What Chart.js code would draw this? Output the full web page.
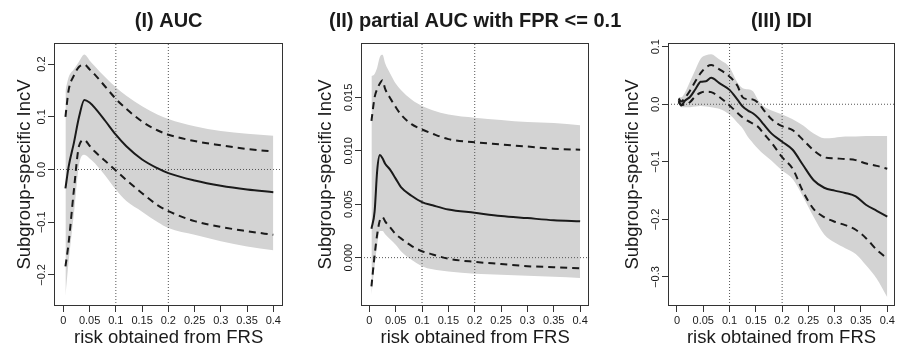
<!DOCTYPE html>
<html>
<head>
<meta charset="utf-8">
<script src="https://cdn.jsdelivr.net/npm/chart.js@4.4.0/dist/chart.umd.min.js"></script>
<style>
  body { margin: 0; background: #fff; }
  #wrap { position: relative; width: 897px; height: 354px; overflow: hidden; }
  canvas { position: absolute; top: 0; }
</style>
</head>
<body>
<div id="wrap">
  <canvas id="auc" width="300" height="354" style="left:0"></canvas>
  <canvas id="pauc" width="340" height="354" style="left:290px"></canvas>
  <canvas id="idi" width="297" height="354" style="left:600px"></canvas>
</div>
<script>
// shared axis ticks
var xTicks = [0, 0.05, 0.1, 0.15, 0.2, 0.25, 0.3, 0.35, 0.4];
var xTickLabels = ["0", "0.05", "0.1", "0.15", "0.2", "0.25", "0.3", "0.35", "0.4"];
var refX = [0.1, 0.2];
var refY = 0;

// (I) AUC
var aucX     = [0.004, 0.01, 0.02, 0.03, 0.04, 0.05, 0.06, 0.08, 0.1, 0.12, 0.15, 0.18, 0.2, 0.25, 0.3, 0.35, 0.4];
var aucEst   = [-0.036, 0.005, 0.05, 0.1, 0.132, 0.127, 0.117, 0.092, 0.066, 0.044, 0.019, 0.002, -0.007, -0.021, -0.031, -0.038, -0.043];
var aucUp    = [0.1, 0.15, 0.178, 0.195, 0.199, 0.19, 0.18, 0.157, 0.134, 0.115, 0.091, 0.074, 0.066, 0.054, 0.046, 0.039, 0.034];
var aucLo    = [-0.184, -0.14, -0.04, 0.045, 0.056, 0.045, 0.034, 0.016, -0.002, -0.02, -0.045, -0.068, -0.079, -0.098, -0.109, -0.117, -0.124];
var aucBandUp = [0.15, 0.175, 0.19, 0.205, 0.218, 0.207, 0.196, 0.175, 0.156, 0.14, 0.12, 0.104, 0.096, 0.082, 0.073, 0.068, 0.064];
var aucBandLo = [-0.24, -0.175, -0.085, 0.01, 0.028, 0.021, 0.012, -0.012, -0.038, -0.06, -0.08, -0.1, -0.111, -0.124, -0.136, -0.146, -0.153];
var aucYTicks = [-0.2, -0.1, 0, 0.1, 0.2];
var aucYLabels = ["\u22120.2", "\u22120.1", "0.0", "0.1", "0.2"];

// (II) partial AUC
var paucX     = [0.004, 0.01, 0.015, 0.02, 0.025, 0.03, 0.04, 0.05, 0.06, 0.08, 0.1, 0.12, 0.15, 0.2, 0.25, 0.3, 0.35, 0.4];
var paucEst   = [0.0027, 0.0043, 0.0082, 0.0096, 0.0093, 0.0088, 0.0082, 0.0074, 0.0066, 0.0058, 0.0052, 0.0049, 0.0045, 0.0042, 0.0039, 0.0037, 0.0035, 0.0034];
var paucUp    = [0.0128, 0.015, 0.0158, 0.0163, 0.0166, 0.0158, 0.0149, 0.0141, 0.0134, 0.0125, 0.012, 0.0116, 0.0111, 0.0108, 0.0106, 0.0104, 0.0102, 0.0101];
var paucLo    = [-0.0027, 0.0002, 0.0022, 0.0035, 0.0038, 0.0034, 0.0028, 0.0022, 0.0018, 0.0011, 0.0006, 0.0003, -0.0001, -0.0004, -0.0006, -0.0008, -0.0009, -0.001];
var paucBandUp = [0.017, 0.0172, 0.0178, 0.0188, 0.019, 0.0182, 0.0172, 0.0163, 0.0157, 0.0148, 0.0142, 0.0138, 0.0134, 0.0131, 0.0129, 0.0127, 0.0126, 0.0124];
var paucBandLo = [-0.0035, -0.0008, 0.0012, 0.0025, 0.0025, 0.0022, 0.0017, 0.0012, 0.0006, -0.0002, -0.0008, -0.0011, -0.0013, -0.0015, -0.0016, -0.0017, -0.0018, -0.0019];
var paucYTicks = [0, 0.005, 0.01, 0.015];
var paucYLabels = ["0.000", "0.005", "0.010", "0.015"];

// (III) IDI
var idiX     = [0.003, 0.008, 0.015, 0.025, 0.035, 0.045, 0.055, 0.065, 0.08, 0.1, 0.115, 0.125, 0.135, 0.145, 0.155, 0.165, 0.18, 0.2, 0.22, 0.24, 0.26, 0.28, 0.3, 0.32, 0.34, 0.36, 0.38, 0.4];
var idiEst   = [0.007, -0.002, 0.006, 0.013, 0.026, 0.039, 0.04, 0.046, 0.037, 0.025, 0.008, -0.004, -0.011, -0.016, -0.024, -0.035, -0.051, -0.065, -0.079, -0.106, -0.132, -0.145, -0.15, -0.154, -0.16, -0.175, -0.185, -0.195];
var idiUp    = [0.01, 0.005, 0.011, 0.024, 0.04, 0.054, 0.064, 0.068, 0.061, 0.048, 0.032, 0.012, 0.009, 0.008, 0.002, -0.01, -0.026, -0.038, -0.045, -0.062, -0.08, -0.092, -0.094, -0.095, -0.097, -0.103, -0.107, -0.112];
var idiLo    = [0.004, -0.001, -0.001, 0.004, 0.014, 0.02, 0.022, 0.021, 0.013, -0.002, -0.015, -0.023, -0.029, -0.034, -0.04, -0.051, -0.067, -0.092, -0.112, -0.152, -0.182, -0.196, -0.204, -0.21, -0.218, -0.233, -0.253, -0.268];
var idiBandUp = [0.012, 0.012, 0.02, 0.04, 0.06, 0.079, 0.085, 0.087, 0.078, 0.064, 0.038, 0.028, 0.026, 0.022, 0.006, -0.004, -0.011, -0.018, -0.026, -0.037, -0.051, -0.059, -0.058, -0.056, -0.056, -0.055, -0.055, -0.055];
var idiBandLo = [0, -0.005, -0.005, -0.005, -0.004, -0.003, -0.004, -0.005, -0.008, -0.018, -0.032, -0.042, -0.057, -0.068, -0.078, -0.087, -0.098, -0.115, -0.13, -0.161, -0.196, -0.226, -0.24, -0.25, -0.26, -0.28, -0.303, -0.335];
var idiYTicks = [-0.3, -0.2, -0.1, 0, 0.1];
var idiYLabels = ["\u22120.3", "\u22120.2", "\u22120.1", "0.0", "0.1"];

var FONT = '"Liberation Sans", Arial, Helvetica, sans-serif';
var INK = '#1a1a1a';

// R-style closed box round the plot region; also lets the title run wider than the plot
var boxPlugin = {
  id: 'box',
  afterLayout: function (chart) {
    var t = chart.titleBlock;
    if (t) { t.left -= 120; t.right += 120; t.width = t.right - t.left; }
  },
  afterDraw: function (chart) {
    var a = chart.chartArea, ctx = chart.ctx;
    ctx.save();
    ctx.strokeStyle = '#333';
    ctx.lineWidth = 1;
    ctx.strokeRect(Math.round(a.left) + 0.5, Math.round(a.top) + 0.5,
                   Math.round(a.right - a.left) - 1, Math.round(a.bottom - a.top) - 1);
    ctx.restore();
  }
};

function panel(id, o) {
  var pts = function (ys) { return o.x.map(function (x, i) { return { x: x, y: ys[i] }; }); };
  var line = function (ys, dash) {
    return { data: pts(ys), borderColor: INK, borderWidth: 2, borderDash: dash || [],
             pointRadius: 0, fill: false, cubicInterpolationMode: 'monotone' };
  };
  var ref = function (d) {
    return { data: d, borderColor: '#555', borderWidth: 1, borderDash: [1, 2], pointRadius: 0, fill: false };
  };
  var sets = [line(o.est), line(o.up, [7, 5]), line(o.lo, [7, 5])];
  refX.forEach(function (v) { sets.push(ref([{ x: v, y: o.ymin }, { x: v, y: o.ymax }])); });
  sets.push(ref([{ x: o.xmin, y: refY }, { x: o.xmax, y: refY }]));
  sets.push({ data: pts(o.bandLo), borderColor: 'rgba(0,0,0,0)', borderWidth: 0, pointRadius: 0,
              fill: false, cubicInterpolationMode: 'monotone' });
  sets.push({ data: pts(o.bandUp), borderColor: 'rgba(0,0,0,0)', borderWidth: 0, pointRadius: 0,
              fill: '-1', backgroundColor: '#d3d3d3', cubicInterpolationMode: 'monotone' });

  new Chart(document.getElementById(id), {
    type: 'line',
    data: { datasets: sets },
    plugins: [boxPlugin],
    options: {
      responsive: false,
      animation: false,
      events: [],
      layout: { padding: { left: o.padL, right: o.padR, top: 0, bottom: 0 } },
      plugins: {
        legend: { display: false },
        tooltip: { enabled: false },
        title: { display: true, text: o.title, fullSize: false, color: INK,
                 font: { family: FONT, size: 20, weight: 'bold' }, padding: { top: 9, bottom: 10 } }
      },
      scales: {
        x: {
          type: 'linear', min: o.xmin, max: o.xmax,
          afterBuildTicks: function (s) { s.ticks = xTicks.map(function (v) { return { value: v }; }); },
          afterFit: function (s) { s.height = 48; },
          grid: { drawOnChartArea: false, tickLength: 6, color: '#333' },
          border: { display: false },
          ticks: { callback: function (v, i) { return xTickLabels[i]; }, autoSkip: false, maxRotation: 0,
                   font: { family: FONT, size: 11 }, color: INK, padding: 2 },
          title: { display: true, text: 'risk obtained from FRS', color: INK,
                   font: { family: FONT, size: 18.5 }, padding: { top: 0, bottom: 5 } }
        },
        y: {
          type: 'linear', min: o.ymin, max: o.ymax,
          afterBuildTicks: function (s) { s.ticks = o.yt.map(function (v) { return { value: v }; }); },
          afterFit: function (s) { s.width = o.axisW; },
          grid: { drawOnChartArea: false, tickLength: 6, color: '#333' },
          border: { display: false },
          ticks: { callback: function (v, i) { return o.yl[i]; }, autoSkip: false,
                   minRotation: 90, maxRotation: 90, crossAlign: 'center',
                   font: { family: FONT, size: 11 }, color: INK, padding: o.tickPad },
          title: { display: true, text: 'Subgroup-specific IncV', color: INK,
                   font: { family: FONT, size: 18.5 }, padding: { top: o.titlePad, bottom: 0 } }
        }
      }
    }
  });
}

panel('auc', { title: '(I) AUC', x: aucX, est: aucEst, up: aucUp, lo: aucLo, bandUp: aucBandUp, bandLo: aucBandLo,
  yt: aucYTicks, yl: aucYLabels, xmin: -0.0178, xmax: 0.419, ymin: -0.259, ymax: 0.24,
  axisW: 54, padL: 0, padR: 16.7, titlePad: 14, tickPad: -5 });
panel('pauc', { title: '(II) partial AUC with FPR <= 0.1', x: paucX, est: paucEst, up: paucUp, lo: paucLo,
  bandUp: paucBandUp, bandLo: paucBandLo, yt: paucYTicks, yl: paucYLabels,
  xmin: -0.0158, xmax: 0.4174, ymin: -0.00453, ymax: 0.0201,
  axisW: 61, padL: 10, padR: 40.7, titlePad: 14.6, tickPad: -8 });
panel('idi', { title: '(III) IDI', x: idiX, est: idiEst, up: idiUp, lo: idiLo, bandUp: idiBandUp, bandLo: idiBandLo,
  yt: idiYTicks, yl: idiYLabels, xmin: -0.0171, xmax: 0.4147, ymin: -0.3504, ymax: 0.1064,
  axisW: 68, padL: 0, padR: 2, titlePad: 22, tickPad: -5 });
</script>
</body>
</html>
